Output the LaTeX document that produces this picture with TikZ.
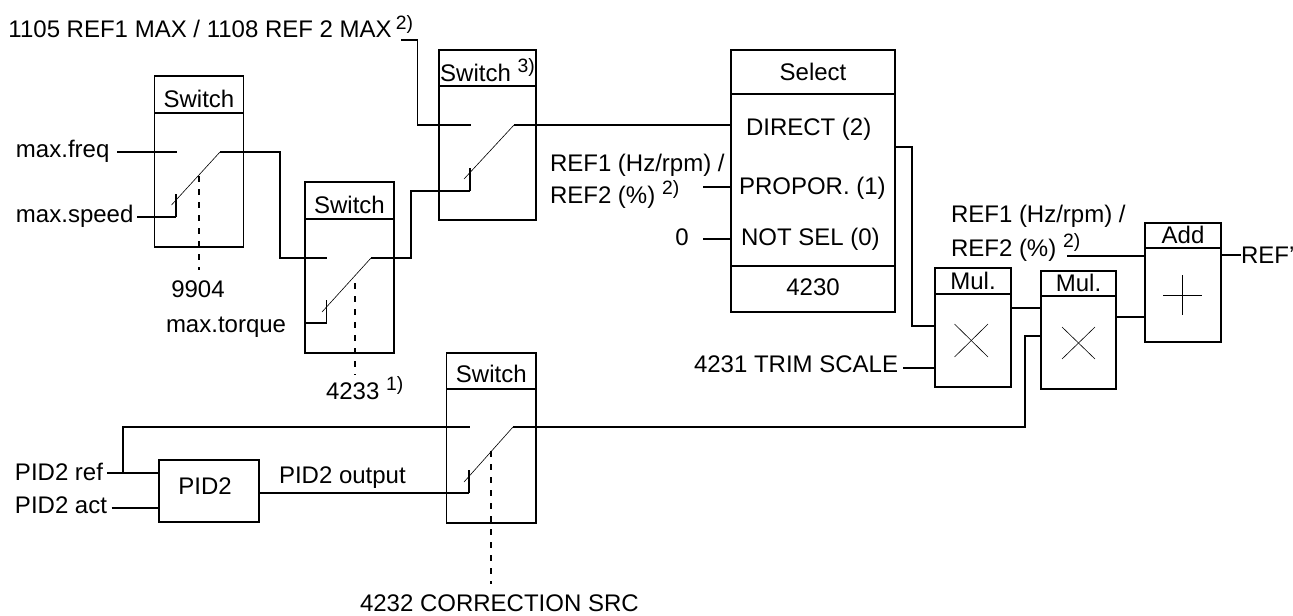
\documentclass[tikz,border=0pt]{standalone}
\usepackage{fontspec}
\setmainfont{Liberation Sans}
\usetikzlibrary{calc,positioning}
% one reference pixel is 0.75pt
\newcommand{\supnote}[2][6.75pt]{\raisebox{#1}{\fontsize{14.5}{16}\selectfont #2}}
\tikzset{
    blockhead/.style n args={3}{draw, line width=1.2pt, inner sep=0pt, outer sep=0pt,
        minimum width=#1*0.75pt, minimum height=#2*0.75pt, text height=#3*0.75pt, text depth=0pt},
    blockbody/.style 2 args={draw, line width=1.2pt, inner sep=0pt, outer sep=0pt,
        minimum width=#1*0.75pt, minimum height=#2*0.75pt},
    sigline/.style={line width=1.15pt},
    blade/.style={line width=0.45pt},
    ctrlline/.style={line width=1.15pt, dash pattern=on 4.5pt off 5.25pt},
    mark line/.style={line width=0.45pt},
    lbl/.style={anchor=base west, inner sep=0pt, outer sep=0pt},
    lblc/.style={anchor=base, inner sep=0pt, outer sep=0pt},
}
\begin{document}
\begin{tikzpicture}[x=0.75pt,y=-0.75pt,font=\fontsize{18}{20}\selectfont]
    \useasboundingbox (0,0) rectangle (1293,615);
    % switch blocks
    \node[blockhead={89}{37}{25}] (swahead) at (199,94.5) {Switch};
    \node[blockbody={89}{134}, below=0pt of swahead] (swabody) {};
    \node[blockhead={89}{37}{25}] (swbhead) at (349.5,200.5) {Switch};
    \node[blockbody={89}{134}, below=0pt of swbhead] (swbbody) {};
    \node[blockhead={97}{36}{26}] (swchead) at (487.5,68) {Switch \supnote{3)}};
    \node[blockbody={97}{134}, below=0pt of swchead] (swcbody) {};
    \node[blockhead={89.5}{36}{23.5}] (swdhead) at (491.3,371) {Switch};
    \node[blockbody={89.5}{134}, below=0pt of swdhead] (swdbody) {};
    % select block
    \node[blockhead={164}{44}{17.5}] (selhead) at (813,72) {Select};
    \node[blockbody={164}{172}, below=0pt of selhead] (selbody) {};
    \node[blockhead={164}{46}{12}] (selcode) at (813,289) {4230};
    \node[lbl] (seldirect) at (746,135) {DIRECT (2)};
    \node[lbl] (selpropor) at (739,194) {PROPOR. (1)};
    \node[lbl] (selnotsel) at (741,245) {NOT SEL (0)};
    % arithmetic blocks
    \node[blockhead={75.5}{26}{16}] (mulahead) at (973,281) {Mul.};
    \node[blockbody={75.5}{93}, below=0pt of mulahead] (mulabody) {};
    \node[blockhead={75.5}{25}{16}] (mulbhead) at (1078.5,283.5) {Mul.};
    \node[blockbody={75.5}{93}, below=0pt of mulbhead] (mulbbody) {};
    \node[blockhead={75.5}{25}{15}] (addhead) at (1183,235.5) {Add};
    \node[blockbody={75.5}{94}, below=0pt of addhead] (addbody) {};
    \node[blockbody={100}{62}] (pidbox) at (209,491) {};
    \node[lblc] (pidname) at (205,494) {PID2};
    % labels
    \node[lbl] (refmax) at (8.5,37) {1105 REF1 MAX / 1108 REF 2 MAX\,\supnote[5.5pt]{2)}};
    \node[lbl] (maxfreq) at (16,157) {max.freq};
    \node[lbl] (maxspeed) at (16,222) {max.speed};
    \node[lblc] (codeswa) at (198,297) {9904};
    \node[lbl] (maxtorque) at (166,332) {max.torque};
    \node[lbl] (codeswb) at (326,399) {4233 \supnote{1)}};
    \node[lbl] (refa) at (550,171) {REF1 (Hz/rpm) /};
    \node[lbl] (refb) at (550,203) {REF2 (\%) \supnote{2)}};
    \node[lblc] (zero) at (682,245) {0};
    \node[lbl] (refc) at (951,222) {REF1 (Hz/rpm) /};
    \node[lbl] (refd) at (951,256) {REF2 (\%) \supnote{2)}};
    \node[lbl] (refout) at (1241,263) {REF'};
    \node[lbl] (trim) at (694,372) {4231 TRIM SCALE};
    \node[lbl] (pidref) at (15,480) {PID2 ref};
    \node[lbl] (pidact) at (15,513) {PID2 act};
    \node[lbl] (pidoutput) at (279,483) {PID2 output};
    \node[lbl] (codeswd) at (360,611) {4232 CORRECTION SRC};
    % switch contacts
    \coordinate (swaup) at (177,152);
    \coordinate (swalow) at (176,217);
    \coordinate (swaout) at (220,152);
    \coordinate (swbup) at (327,258);
    \coordinate (swblow) at (326.5,323);
    \coordinate (swbout) at (371,258);
    \coordinate (swcup) at (471,125);
    \coordinate (swclow) at (470,191);
    \coordinate (swcout) at (514,125);
    \coordinate (swdup) at (470,427);
    \coordinate (swdlow) at (469,493);
    \coordinate (swdout) at (513,427);
    % blades and contact stubs
    \draw[blade] (171.5,205) -- (swaout);
    \draw[blade] (322,312) -- (swbout);
    \draw[blade] (464,179) -- (swcout);
    \draw[blade] (464,482) -- (swdout);
    \draw[sigline] (swalow) -- ++(0,-23);
    \draw[sigline] (swblow) -- ++(0,-23);
    \draw[sigline] (swclow) -- ++(0,-23);
    \draw[sigline] (swdlow) -- ++(0,-23);
    % control lines
    \draw[ctrlline] (199,176) -- (199,270);
    \draw[ctrlline] (355,283) -- (355,375);
    \draw[ctrlline] (491,451) -- (491,584);
    % connectors
    \coordinate (refmaxend) at (401,40);
    \coordinate (maxfreqend) at (117,152);
    \coordinate (maxspeedend) at (137,217);
    \coordinate (maxtorqueend) at (305,323);
    \coordinate (refbend) at (703,187);
    \coordinate (zeroend) at (703,239);
    \coordinate (refdend) at (1067,256);
    \coordinate (trimend) at (903,368);
    \coordinate (pidrefend) at (107,473);
    \coordinate (pidactend) at (111.5,508);
    \draw[sigline] (refmaxend) -| (417.5,125) -- (swcup);
    \draw[sigline] (maxfreqend) -- (swaup);
    \draw[sigline] (maxspeedend) -- (swalow);
    \draw[sigline] (swaout) -| (280,258) -- (swbup);
    \draw[sigline] (maxtorqueend) -- (swblow);
    \draw[sigline] (swbout) -| (411,191) -- (swclow);
    \draw[sigline] (swcout) -- (selbody.west |- swcout);
    \draw[sigline] (refbend) -- (selbody.west |- refbend);
    \draw[sigline] (zeroend) -- (selbody.west |- zeroend);
    \draw[sigline] (selbody.east |- 0,147) -| (912,326) -- (mulabody.west |- 0,326);
    \draw[sigline] (trimend) -- (mulabody.west |- trimend);
    \draw[sigline] (mulabody.east |- 0,308) -- (mulbbody.west |- 0,308);
    \draw[sigline] (mulbbody.east |- 0,317) -- (addbody.west |- 0,317);
    \draw[sigline] (refdend) -- (addhead.west |- refdend);
    \draw[sigline] (addhead.east |- 0,255) -- (refout.west |- 0,255);
    \draw[sigline] (pidrefend) -- (pidbox.west |- pidrefend);
    \draw[sigline] (pidactend) -- (pidbox.west |- pidactend);
    \draw[sigline] (123,473) |- (swdup);
    \draw[sigline] (pidbox.east |- swdlow) -- (swdlow);
    \draw[sigline] (swdout) -| (1025,336) -- (mulbbody.west |- 0,336);
    % operator marks
    \draw[mark line] (954.5,324) -- (988,357);
    \draw[mark line] (988,324) -- (954.5,357);
    \draw[mark line] (1062,327) -- (1095,359);
    \draw[mark line] (1095,327) -- (1062,359);
    \draw[line width=0.75pt] (1182,275) -- (1182,315);
    \draw[line width=0.75pt] (1163,295) -- (1202,295);
\end{tikzpicture}
\end{document}
